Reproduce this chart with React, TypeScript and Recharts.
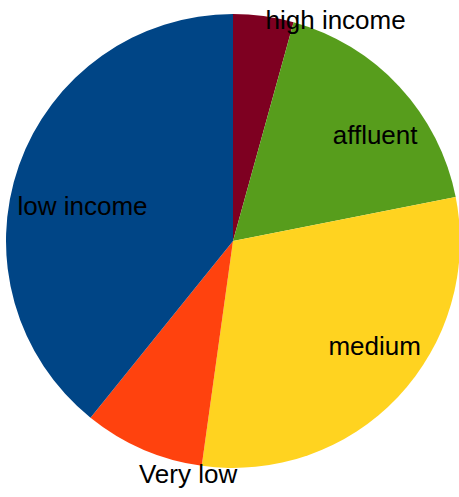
import React from "react";
import { PieChart, Pie, Cell } from "recharts";

const categories = ["high income", "affluent", "medium", "Very low", "low income"];
const shares = [4.3, 17.6, 30.3, 8.6, 39.2];
const colors = ["#7e0021", "#579d1c", "#ffd320", "#ff420e", "#004586"];

// label anchor offsets as fractions of the radius (x of text centre, y of baseline)
const labelOffsets: Record<string, [number, number]> = {
  "high income": [0.452, -0.934],
  affluent: [0.626, -0.427],
  medium: [0.624, 0.502],
  "Very low": [-0.198, 1.066],
  "low income": [-0.663, -0.115],
};

const data = categories.map((name, i) => ({ name, value: shares[i] }));

const renderLabel = (props: any) => {
  const { cx, cy, outerRadius, name } = props;
  const off = labelOffsets[name] || [0, 0];
  return (
    <text
      x={cx + off[0] * outerRadius}
      y={cy + off[1] * outerRadius}
      textAnchor="middle"
      fill="#000"
      fontFamily="'Liberation Sans', Arial, sans-serif"
      fontSize={26}
    >
      {name}
    </text>
  );
};

export default function App() {
  return (
    <div style={{ position: "absolute", left: 0, top: 0, background: "#fff" }}>
      <PieChart width={459} height={497} margin={{ top: 0, right: 0, bottom: 0, left: 0 }}>
        <Pie
          data={data}
          dataKey="value"
          nameKey="name"
          cx={233}
          cy={241}
          outerRadius={227}
          startAngle={90}
          endAngle={-270}
          stroke="none"
          label={renderLabel}
          labelLine={false}
          isAnimationActive={false}
        >
          {data.map((d, i) => (
            <Cell key={d.name} fill={colors[i]} />
          ))}
        </Pie>
      </PieChart>
    </div>
  );
}
